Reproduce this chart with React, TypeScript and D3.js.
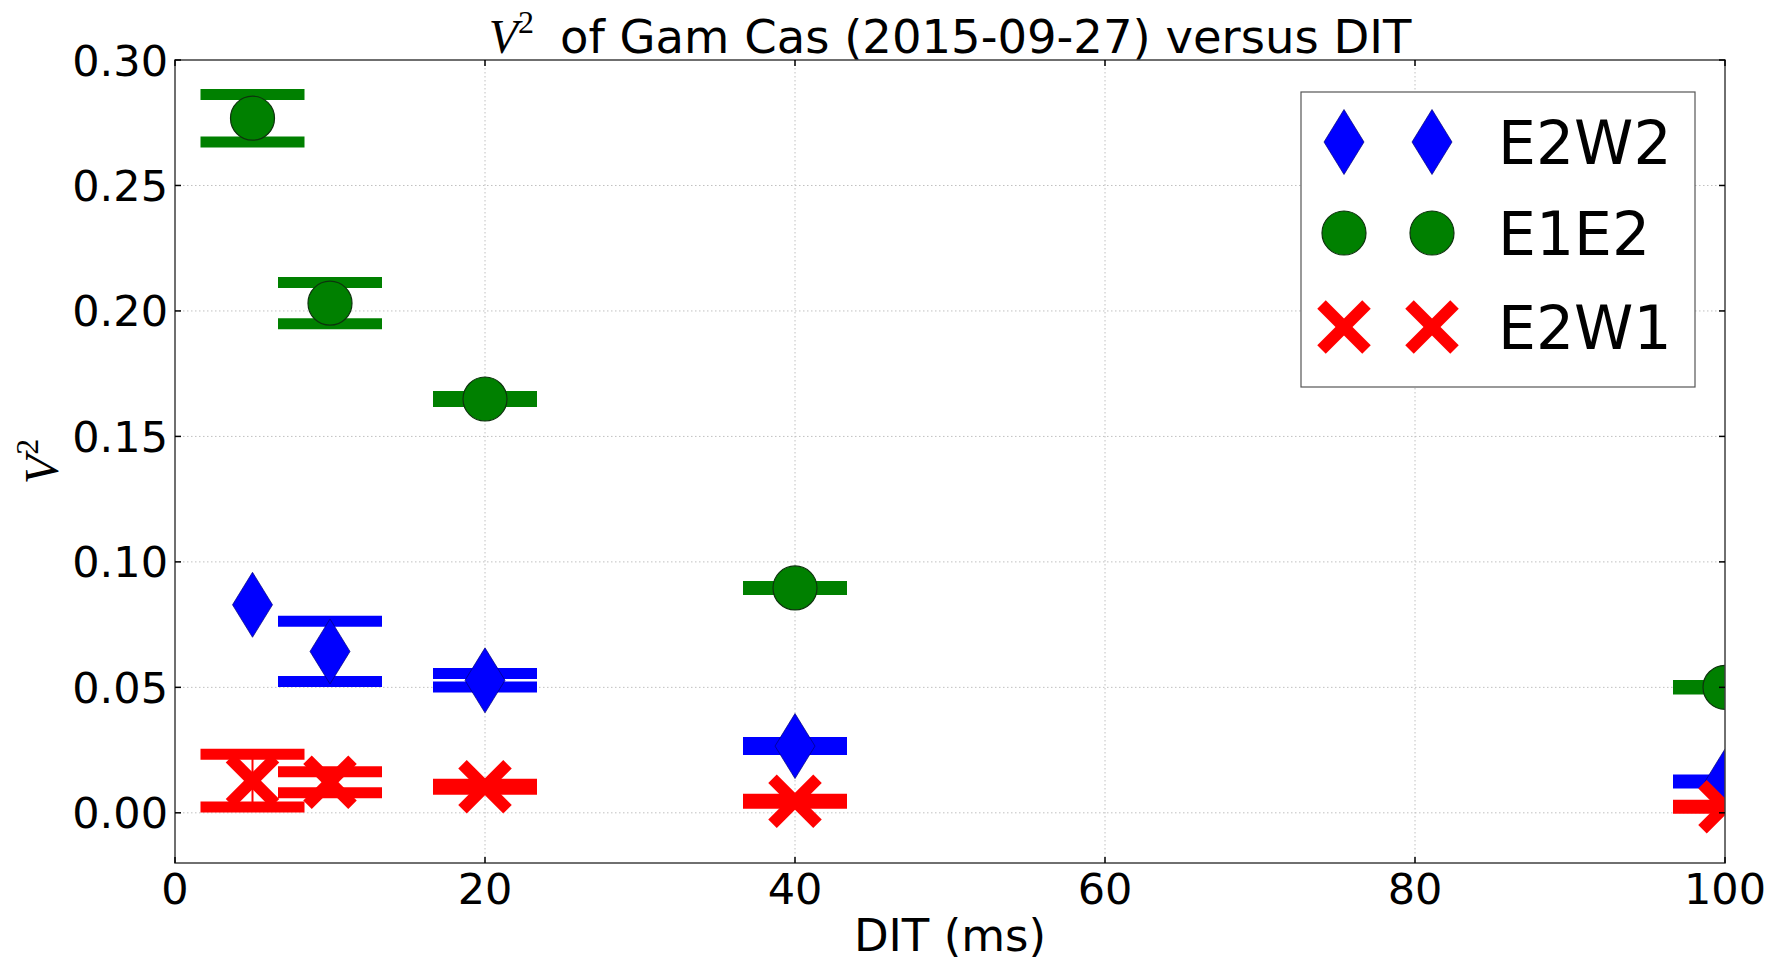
import React from "react";
import * as d3 from "d3";

// Squared visibility of Gam Cas (2015-09-27) for three baselines, versus detector integration time
const dits = [5, 10, 20, 40, 100];

const e2w2 = [0.0829, 0.0643, 0.0528, 0.0266, 0.0125];
const e2w2Err = [NaN, 0.012, 0.0027, 0.0014, 0.0006];

const e1e2 = [0.2768, 0.2031, 0.1649, 0.0896, 0.05];
const e1e2Err = [0.0095, 0.0082, 0.001, 0.0006, 0.0007];

const e2w1 = [0.0128, 0.0122, 0.0104, 0.0046, 0.0024];
const e2w1Err = [0.0105, 0.0042, 0.001, 0.0008, 0.0006];

const xTicks = [0, 20, 40, 60, 80, 100];
const yTicks = [0, 0.05, 0.1, 0.15, 0.2, 0.25, 0.3];

const W = 1773;
const H = 964;
const M = { left: 175, right: 1725, top: 60, bottom: 863 };

const SANS = "DejaVu Sans, sans-serif";
const SERIF = "Liberation Serif, DejaVu Serif, serif";

type Marker = "diamond" | "circle" | "x";

interface Series {
  name: string;
  color: string;
  marker: Marker;
  values: number[];
  errors: number[];
}

const series: Series[] = [
  { name: "E2W2", color: "#0000ff", marker: "diamond", values: e2w2, errors: e2w2Err },
  { name: "E1E2", color: "#008000", marker: "circle", values: e1e2, errors: e1e2Err },
  { name: "E2W1", color: "#ff0000", marker: "x", values: e2w1, errors: e2w1Err },
];

const CAP_HALF = 52;
const CAP_THICK = 11;

function MarkerGlyph({ kind, color }: { kind: Marker; color: string }) {
  if (kind === "circle") {
    return <circle r={22} fill={color} stroke="#0d330d" strokeWidth={1.2} />;
  }
  if (kind === "diamond") {
    return (
      <path
        d="M0,-32.5L20,0L0,32.5L-20,0Z"
        fill={color}
        stroke="#00007a"
        strokeWidth={0.7}
      />
    );
  }
  const a = 22.5;
  return (
    <g stroke={color} strokeWidth={12} strokeLinecap="butt">
      <line x1={-a} y1={-a} x2={a} y2={a} />
      <line x1={-a} y1={a} x2={a} y2={-a} />
    </g>
  );
}

export default function App() {
  const x = d3.scaleLinear().domain([0, 100]).range([M.left, M.right]);
  const y = d3.scaleLinear().domain([-0.02, 0.3]).range([M.bottom, M.top]);
  const fmt = d3.format(".2f");

  const legendRows = [142, 233, 327];

  return (
    <svg
      width={W}
      height={H}
      style={{ position: "absolute", left: 0, top: 0, background: "#fff" }}
    >
      <defs>
        <clipPath id="plot-area">
          <rect x={M.left} y={M.top} width={M.right - M.left} height={M.bottom - M.top} />
        </clipPath>
      </defs>
      <rect x={0} y={0} width={W} height={H} fill="#fff" />

      {/* grid */}
      <g stroke="#c0c0c0" strokeWidth={1} strokeDasharray="1.5,2.5">
        {xTicks
          .filter((t) => t > 0 && t < 100)
          .map((t) => (
            <line key={"gx" + t} x1={x(t)} x2={x(t)} y1={M.top} y2={M.bottom} />
          ))}
        {yTicks
          .filter((t) => t < 0.3)
          .map((t) => (
            <line key={"gy" + t} x1={M.left} x2={M.right} y1={y(t)} y2={y(t)} />
          ))}
      </g>

      {/* data */}
      <g clipPath="url(#plot-area)">
        {series.map((s) => (
          <g key={s.name}>
            {s.values.map((v, i) => {
              const e = s.errors[i];
              if (!isFinite(e)) return null;
              const cx = x(dits[i]);
              return (
                <g key={i} stroke={s.color}>
                  <line x1={cx} x2={cx} y1={y(v - e)} y2={y(v + e)} strokeWidth={2} />
                  <line
                    x1={cx - CAP_HALF}
                    x2={cx + CAP_HALF}
                    y1={y(v + e)}
                    y2={y(v + e)}
                    strokeWidth={CAP_THICK}
                  />
                  <line
                    x1={cx - CAP_HALF}
                    x2={cx + CAP_HALF}
                    y1={y(v - e)}
                    y2={y(v - e)}
                    strokeWidth={CAP_THICK}
                  />
                </g>
              );
            })}
            {s.values.map((v, i) => (
              <g key={"m" + i} transform={`translate(${x(dits[i])},${y(v)})`}>
                <MarkerGlyph kind={s.marker} color={s.color} />
              </g>
            ))}
          </g>
        ))}
      </g>

      {/* frame */}
      <rect
        x={M.left}
        y={M.top}
        width={M.right - M.left}
        height={M.bottom - M.top}
        fill="none"
        stroke="#404040"
        strokeWidth={1.5}
      />

      {/* ticks, pointing inward on all four sides */}
      <g stroke="#000" strokeWidth={1.5}>
        {xTicks.map((t) => (
          <g key={"tx" + t}>
            <line x1={x(t)} x2={x(t)} y1={M.bottom} y2={M.bottom - 6} />
            <line x1={x(t)} x2={x(t)} y1={M.top} y2={M.top + 6} />
          </g>
        ))}
        {yTicks.map((t) => (
          <g key={"ty" + t}>
            <line x1={M.left} x2={M.left + 6} y1={y(t)} y2={y(t)} />
            <line x1={M.right} x2={M.right - 6} y1={y(t)} y2={y(t)} />
          </g>
        ))}
      </g>

      {/* tick labels */}
      <g fontFamily={SANS} fontSize={43} fill="#000">
        {xTicks.map((t) => (
          <text key={"lx" + t} x={x(t)} y={M.bottom + 10 + 31} textAnchor="middle">
            {t}
          </text>
        ))}
        {yTicks.map((t) => (
          <text key={"ly" + t} x={M.left - 7} y={y(t) + 15.5} textAnchor="end">
            {fmt(t)}
          </text>
        ))}
      </g>

      {/* title */}
      <text x={(M.left + M.right) / 2} y={53} textAnchor="middle" fill="#000">
        <tspan fontFamily={SERIF} fontStyle="italic" fontSize={48}>
          V
        </tspan>
        <tspan fontFamily={SERIF} fontSize={32} dy={-20}>
          2
        </tspan>
        <tspan fontFamily={SANS} fontSize={46.5} dy={20} dx={26}>
          of Gam Cas (2015-09-27) versus DIT
        </tspan>
      </text>

      {/* axis labels */}
      <text
        x={(M.left + M.right) / 2}
        y={951}
        textAnchor="middle"
        fontFamily={SANS}
        fontSize={45}
        fill="#000"
      >
        DIT (ms)
      </text>
      <g transform={`translate(58,${(M.top + M.bottom) / 2}) rotate(-90)`}>
        <text x={0} y={0} textAnchor="middle" fill="#000">
          <tspan fontFamily={SERIF} fontStyle="italic" fontSize={48}>
            V
          </tspan>
          <tspan fontFamily={SERIF} fontSize={32} dy={-20}>
            2
          </tspan>
        </text>
      </g>

      {/* legend */}
      <rect x={1301} y={92} width={394} height={295} fill="#fff" stroke="#555" strokeWidth={1.2} />
      {series.map((s, k) => (
        <g key={"lg" + s.name}>
          {[1344, 1432].map((lx) => (
            <g key={lx} transform={`translate(${lx},${legendRows[k]})`}>
              <MarkerGlyph kind={s.marker} color={s.color} />
            </g>
          ))}
          <text
            x={1498}
            y={legendRows[k] + 22}
            fontFamily={SANS}
            fontSize={60}
            fill="#000"
          >
            {s.name}
          </text>
        </g>
      ))}
    </svg>
  );
}
